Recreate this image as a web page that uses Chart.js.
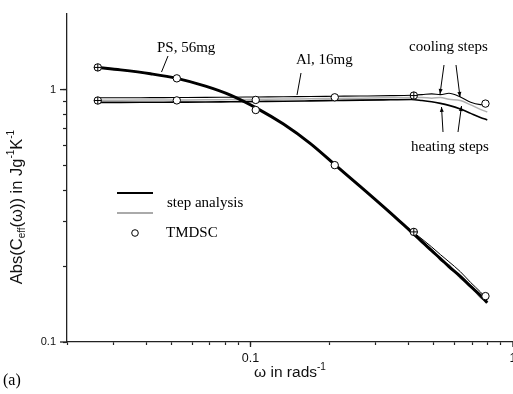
<!DOCTYPE html>
<html>
<head>
<meta charset="utf-8">
<script src="https://cdn.jsdelivr.net/npm/chart.js@4"></script>
<style>
  html, body { margin: 0; padding: 0; background: #fff; overflow: hidden; }
  #wrap { width: 513px; height: 394px; overflow: hidden; }
</style>
</head>
<body>
<div id="wrap"><canvas id="chart" width="530" height="394"></canvas></div>
<script>
// step analysis frequencies (rad/s)
const omegaStep = [0.0262, 0.032, 0.0416, 0.0524, 0.0674, 0.0839, 0.1063, 0.1335, 0.1692, 0.2106,
                   0.2623, 0.3412, 0.41, 0.45, 0.49, 0.529, 0.57, 0.63, 0.69, 0.751, 0.798];
const psHeating = [1.224, 1.197, 1.155, 1.108, 1.032, 0.951, 0.841, 0.730, 0.611, 0.502,
                   0.413, 0.325, 0.273, 0.250, 0.230, 0.214, 0.199, 0.182, 0.166, 0.153, 0.143];
const psCooling = [1.224, 1.197, 1.155, 1.108, 1.032, 0.951, 0.841, 0.730, 0.611, 0.502,
                   0.413, 0.325, 0.276, 0.256, 0.238, 0.222, 0.208, 0.190, 0.172, 0.158, 0.147];
const psGray    = [1.224, 1.197, 1.155, 1.108, 1.032, 0.951, 0.841, 0.730, 0.611, 0.502,
                   0.413, 0.325, 0.273, 0.247, 0.233, 0.211, 0.202, 0.179, 0.167, 0.150, 0.145];
const alHeating = [0.890, 0.890, 0.891, 0.892, 0.893, 0.895, 0.897, 0.899, 0.902, 0.905,
                   0.908, 0.911, 0.913, 0.905, 0.895, 0.882, 0.866, 0.838, 0.805, 0.776, 0.758];
const alCooling = [0.928, 0.928, 0.929, 0.930, 0.931, 0.933, 0.935, 0.937, 0.939, 0.941,
                   0.943, 0.946, 0.950, 0.955, 0.962, 0.955, 0.967, 0.935, 0.890, 0.872, 0.870];
const alGray    = [0.908, 0.908, 0.909, 0.910, 0.911, 0.913, 0.915, 0.917, 0.920, 0.922,
                   0.925, 0.928, 0.930, 0.930, 0.925, 0.930, 0.915, 0.905, 0.870, 0.835, 0.815];

// TMDSC frequencies 2*pi/p for p = 240,120,60,30,15,8 s
const omegaTmdsc = [0.0262, 0.0524, 0.1047, 0.2094, 0.4189, 0.7854];
const psTmdsc    = [1.224, 1.108, 0.83, 0.502, 0.273, 0.152];
const alTmdsc    = [0.905, 0.906, 0.910, 0.932, 0.947, 0.88];

// points where step analysis and TMDSC coincide (drawn as crossed circles)
const omegaCross = [0.0262, 0.4189];
const psCross    = [1.224, 0.273];
const alCross    = [0.905, 0.947];

const xTicks = [0.02, 0.03, 0.04, 0.05, 0.06, 0.07, 0.08, 0.09, 0.1, 0.2, 0.3, 0.4, 0.5, 0.6, 0.7, 0.8, 0.9, 1];
const yTicks = [0.1, 0.2, 0.3, 0.4, 0.5, 0.6, 0.7, 0.8, 0.9, 1];
const majorTicks = [0.1, 1];

const SANS = '"Liberation Sans", Arial, sans-serif';
const SERIF = '"Liberation Serif", "Times New Roman", serif';

function pts(xs, ys) { return xs.map((x, i) => ({ x: x, y: ys[i] })); }

function lineSet(data, color, width, order) {
    return { data: data, borderColor: color, borderWidth: width, pointRadius: 0, fill: false,
             cubicInterpolationMode: 'monotone', order: order, showLine: true };
}

function drawRich(ctx, parts, cx, cy, size) {
    // parts: [text, mode] with mode '', 'sub', 'sup'
    const small = Math.round(size * 0.62);
    let w = 0;
    parts.forEach(p => {
        ctx.font = (p[1] ? small : size) + 'px ' + SANS;
        w += ctx.measureText(p[0]).width;
    });
    let x = cx - w / 2;
    ctx.textBaseline = 'middle';
    ctx.textAlign = 'left';
    parts.forEach(p => {
        ctx.font = (p[1] ? small : size) + 'px ' + SANS;
        let dy = 0;
        if (p[1] === 'sub') dy = size * 0.3;
        if (p[1] === 'sup') dy = -size * 0.35;
        ctx.fillText(p[0], x, cy + dy);
        x += ctx.measureText(p[0]).width;
    });
}

function arrow(ctx, x1, y1, x2, y2) {
    ctx.beginPath();
    ctx.moveTo(x1, y1);
    ctx.lineTo(x2, y2);
    ctx.stroke();
    const ang = Math.atan2(y2 - y1, x2 - x1);
    const len = 5, half = 2;
    ctx.beginPath();
    ctx.moveTo(x2, y2);
    ctx.lineTo(x2 - len * Math.cos(ang) + half * Math.sin(ang), y2 - len * Math.sin(ang) - half * Math.cos(ang));
    ctx.lineTo(x2 - len * Math.cos(ang) - half * Math.sin(ang), y2 - len * Math.sin(ang) + half * Math.cos(ang));
    ctx.closePath();
    ctx.fill();
}

const overlay = {
    id: 'overlay',
    afterDraw(chart) {
        const ctx = chart.ctx;
        const a = chart.chartArea;
        const xs = chart.scales.x, ys = chart.scales.y;
        ctx.save();
        ctx.strokeStyle = '#222';
        ctx.fillStyle = '#000';
        ctx.lineWidth = 1.3;

        // longer major ticks
        majorTicks.forEach(v => {
            const px = xs.getPixelForValue(v);
            ctx.beginPath(); ctx.moveTo(px, a.bottom); ctx.lineTo(px, a.bottom + 5); ctx.stroke();
            const py = ys.getPixelForValue(v);
            ctx.beginPath(); ctx.moveTo(a.left - 7, py); ctx.lineTo(a.left, py); ctx.stroke();
        });

        // axis titles
        ctx.fillStyle = '#111';
        drawRich(ctx, [['\u03c9 in rads', ''], ['-1', 'sup']], 290, 373, 15.5);
        ctx.save();
        ctx.translate(17, 207);
        ctx.rotate(-Math.PI / 2);
        drawRich(ctx, [['Abs(C', ''], ['eff', 'sub'], ['(\u03c9)) in Jg', ''], ['-1', 'sup'], ['K', ''], ['-1', 'sup']], 0, 0, 16.5);
        ctx.restore();

        // legend
        ctx.lineWidth = 2;
        ctx.strokeStyle = '#000';
        ctx.beginPath(); ctx.moveTo(117, 193); ctx.lineTo(153, 193); ctx.stroke();
        ctx.strokeStyle = '#aaa';
        ctx.beginPath(); ctx.moveTo(117, 213); ctx.lineTo(153, 213); ctx.stroke();
        ctx.strokeStyle = '#000';
        ctx.lineWidth = 1;
        ctx.fillStyle = '#fff';
        ctx.beginPath(); ctx.arc(135, 233, 3.3, 0, Math.PI * 2); ctx.fill(); ctx.stroke();

        ctx.fillStyle = '#000';
        ctx.font = '15px ' + SERIF;
        ctx.textAlign = 'left';
        ctx.textBaseline = 'middle';
        ctx.fillText('step analysis', 167, 203);
        ctx.fillText('TMDSC', 166, 233);

        // annotations
        ctx.fillText('PS, 56mg', 157, 48);
        ctx.fillText('Al, 16mg', 296, 60);
        ctx.fillText('cooling steps', 409, 47);
        ctx.fillText('heating steps', 411, 147);
        ctx.font = '16px ' + SERIF;
        ctx.fillText('(a)', 3, 381);

        ctx.lineWidth = 1;
        ctx.strokeStyle = '#000';
        ctx.beginPath(); ctx.moveTo(168, 56); ctx.lineTo(161.5, 72); ctx.stroke();
        ctx.beginPath(); ctx.moveTo(301, 73); ctx.lineTo(297, 95); ctx.stroke();
        arrow(ctx, 444, 65, 440, 94);
        arrow(ctx, 456, 65, 460, 97);
        arrow(ctx, 443, 132, 441.5, 107);
        arrow(ctx, 458, 132, 461.5, 106);
        ctx.restore();
    }
};

new Chart(document.getElementById('chart'), {
    type: 'scatter',
    data: {
        datasets: [
            lineSet(pts(omegaStep, psGray), '#9a9a9a', 1.5, 12),
            lineSet(pts(omegaStep, psHeating), '#000', 3, 11),
            lineSet(pts(omegaStep, psCooling), '#000', 1, 10),
            lineSet(pts(omegaStep, alGray), '#b0b0b0', 1.5, 12),
            lineSet(pts(omegaStep, alHeating), '#000', 1.6, 11),
            lineSet(pts(omegaStep, alCooling), '#000', 1.1, 10),
            { data: pts(omegaTmdsc, psTmdsc), pointStyle: 'circle', pointRadius: 3.7, pointBorderWidth: 1,
              pointBackgroundColor: '#fff', pointBorderColor: '#000', showLine: false, order: 2 },
            { data: pts(omegaTmdsc, alTmdsc), pointStyle: 'circle', pointRadius: 3.7, pointBorderWidth: 1,
              pointBackgroundColor: '#fff', pointBorderColor: '#000', showLine: false, order: 2 },
            { data: pts(omegaCross, psCross), pointStyle: 'cross', pointRadius: 3.7, pointBorderWidth: 1,
              pointBorderColor: '#000', showLine: false, order: 1 },
            { data: pts(omegaCross, alCross), pointStyle: 'cross', pointRadius: 3.7, pointBorderWidth: 1,
              pointBorderColor: '#000', showLine: false, order: 1 }
        ]
    },
    options: {
        responsive: false,
        animation: false,
        devicePixelRatio: 1,
        layout: { padding: { top: 13.5, right: 17, left: 0, bottom: 0 } },
        plugins: { legend: { display: false }, tooltip: { enabled: false } },
        scales: {
            x: {
                type: 'logarithmic', min: 0.02, max: 1,
                afterBuildTicks: s => { s.ticks = xTicks.map(v => ({ value: v })); },
                afterFit: s => { s.height = 52; },
                border: { display: true, color: '#222', width: 1.3 },
                grid: { display: true, drawOnChartArea: false, drawTicks: true, tickLength: 3, tickColor: '#222', tickWidth: 1.2 },
                ticks: {
                    autoSkip: false, maxRotation: 0, padding: 6, color: '#111',
                    font: { family: SANS, size: 12.5 },
                    callback: v => (majorTicks.includes(v) ? String(v) : '')
                }
            },
            y: {
                type: 'logarithmic', min: 0.1, max: 2,
                afterBuildTicks: s => { s.ticks = yTicks.map(v => ({ value: v })); },
                afterFit: s => { s.width = 67; },
                border: { display: true, color: '#222', width: 1.3 },
                grid: { display: true, drawOnChartArea: false, drawTicks: true, tickLength: 4, tickColor: '#222', tickWidth: 1.2 },
                ticks: {
                    autoSkip: false, padding: 7, color: '#111',
                    font: { family: SANS, size: 11 },
                    callback: v => (majorTicks.includes(v) ? String(v) : '')
                }
            }
        }
    },
    plugins: [overlay]
});
</script>
</body>
</html>
